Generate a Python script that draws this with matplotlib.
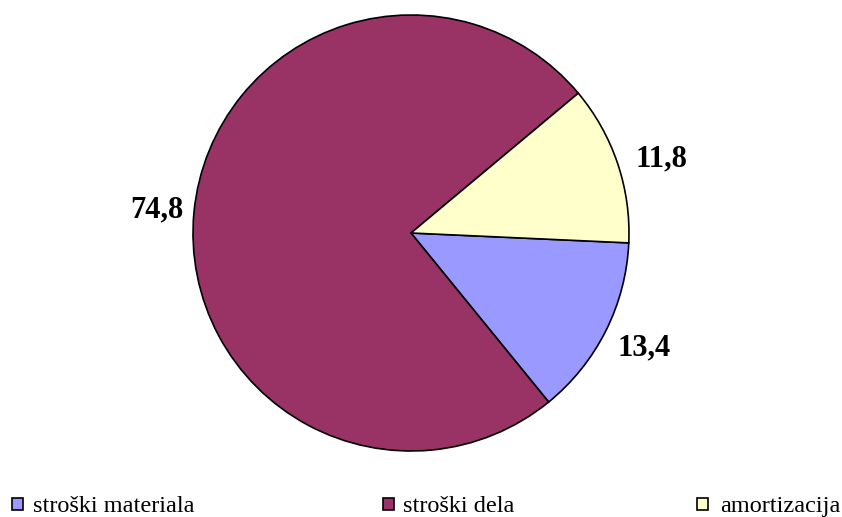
import numpy as np
import matplotlib
matplotlib.use("Agg")
import matplotlib.pyplot as plt
from matplotlib.patches import Rectangle

# Cost structure shares (%)
categories = ["stroški materiala", "stroški dela", "amortizacija"]
values = [13.4, 74.8, 11.8]
value_labels = ["13,4", "74,8", "11,8"]
colors = ["#9999FF", "#993366", "#FFFFCC"]

W, H = 842, 517
fig = plt.figure(figsize=(W / 100, H / 100), dpi=100)
fig.patch.set_facecolor("white")

cx, cy, r = 411, 233, 218
ax = fig.add_axes([(cx - r) / W, (H - cy - r) / H, 2 * r / W, 2 * r / H])
start = -2.6
wedges, _ = ax.pie(values, colors=colors, startangle=start, counterclock=False,
                   radius=1.0,
                   wedgeprops=dict(edgecolor="black", linewidth=1.2))
ax.set_xlim(-1, 1)
ax.set_ylim(-1, 1)
ax.set_aspect("equal")
ax.axis("off")

# Value labels placed outside each wedge (radial distance, angular nudge in degrees)
label_font = dict(family="Liberation Serif", fontsize=22, fontweight="bold")
label_dist = [1.19, 1.17, 1.20]
label_nudge = [0.5, 0.3, -2.2]
for w, lab, d, dn in zip(wedges, value_labels, label_dist, label_nudge):
    mid = np.deg2rad((w.theta1 + w.theta2) / 2 + dn)
    ax.text(d * np.cos(mid), d * np.sin(mid), lab, ha="center", va="center",
            **label_font)

# Legend row along the bottom
box_x = [12, 383, 697]
text_x = [33, 403, 720]
box_y0, box_y1 = 498, 510
baseline = 512
for bx, tx, lab, c in zip(box_x, text_x, categories, colors):
    fig.patches.append(Rectangle((bx / W, (H - box_y1) / H), 11 / W, (box_y1 - box_y0) / H,
                                 transform=fig.transFigure, facecolor=c,
                                 edgecolor="black", linewidth=1.2))
    fig.text(tx / W, (H - baseline) / H, lab, ha="left", va="baseline",
             family="Liberation Serif", fontsize=17.5)

fig.savefig("out.png", dpi=100)
